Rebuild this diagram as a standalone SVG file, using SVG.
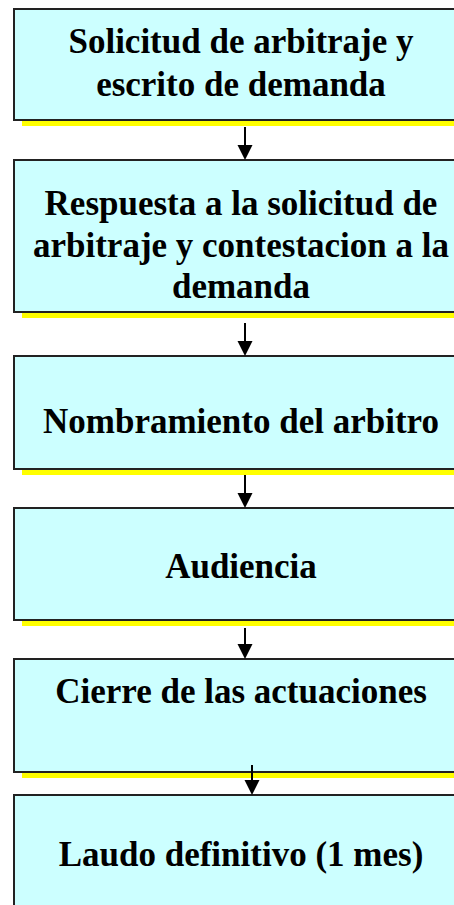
<svg xmlns="http://www.w3.org/2000/svg" width="454" height="905" viewBox="0 0 454 905">
<style>
.box{fill:#CCFFFF;stroke:#222;stroke-width:2}
.sh{fill:#FFFF00}
.t{font-family:"Liberation Serif","Times New Roman",serif;font-weight:bold;font-size:35px;fill:#000;text-anchor:middle}
.c{stroke:#000;stroke-width:2;fill:none}
.h{fill:#000}
</style>
<g id="n1"><rect class="sh" x="22" y="15" width="460" height="111"/><rect class="box" x="14" y="9" width="460" height="111"/>
<text class="t" x="241" y="53">Solicitud de arbitraje y</text><text class="t" x="241" y="96">escrito de demanda</text></g>
<g id="n2"><rect class="sh" x="22" y="166" width="460" height="152"/><rect class="box" x="14" y="160" width="460" height="152"/>
<text class="t" x="241" y="215">Respuesta a la solicitud de</text><text class="t" x="241" y="257">arbitraje y contestacion a la</text><text class="t" x="241" y="298">demanda</text></g>
<g id="n3"><rect class="sh" x="22" y="362" width="460" height="113"/><rect class="box" x="14" y="356" width="460" height="113"/>
<text class="t" x="241" y="433">Nombramiento del arbitro</text></g>
<g id="n4"><rect class="sh" x="22" y="514" width="460" height="112"/><rect class="box" x="14" y="508" width="460" height="112"/>
<text class="t" x="241" y="578">Audiencia</text></g>
<g id="n5"><rect class="sh" x="22" y="665" width="460" height="113"/><rect class="box" x="14" y="659" width="460" height="113"/>
<text class="t" x="241" y="703">Cierre de las actuaciones</text></g>
<g id="n6"><rect class="box" x="14" y="795" width="460" height="130"/>
<text class="t" x="241" y="866">Laudo definitivo (1 mes)</text></g>
<g id="connectors">
<line class="c" x1="245" y1="127" x2="245" y2="146"/><polygon class="h" points="237.5,145 252.5,145 245,160"/>
<line class="c" x1="245" y1="323" x2="245" y2="342"/><polygon class="h" points="237.5,341 252.5,341 245,356"/>
<line class="c" x1="245" y1="475" x2="245" y2="494"/><polygon class="h" points="237.5,493 252.5,493 245,508"/>
<line class="c" x1="245" y1="628" x2="245" y2="645"/><polygon class="h" points="237.5,644 252.5,644 245,659"/>
<line class="c" x1="252" y1="765" x2="252" y2="781"/><polygon class="h" points="244.5,780 259.5,780 252,795"/>
</g>
</svg>
